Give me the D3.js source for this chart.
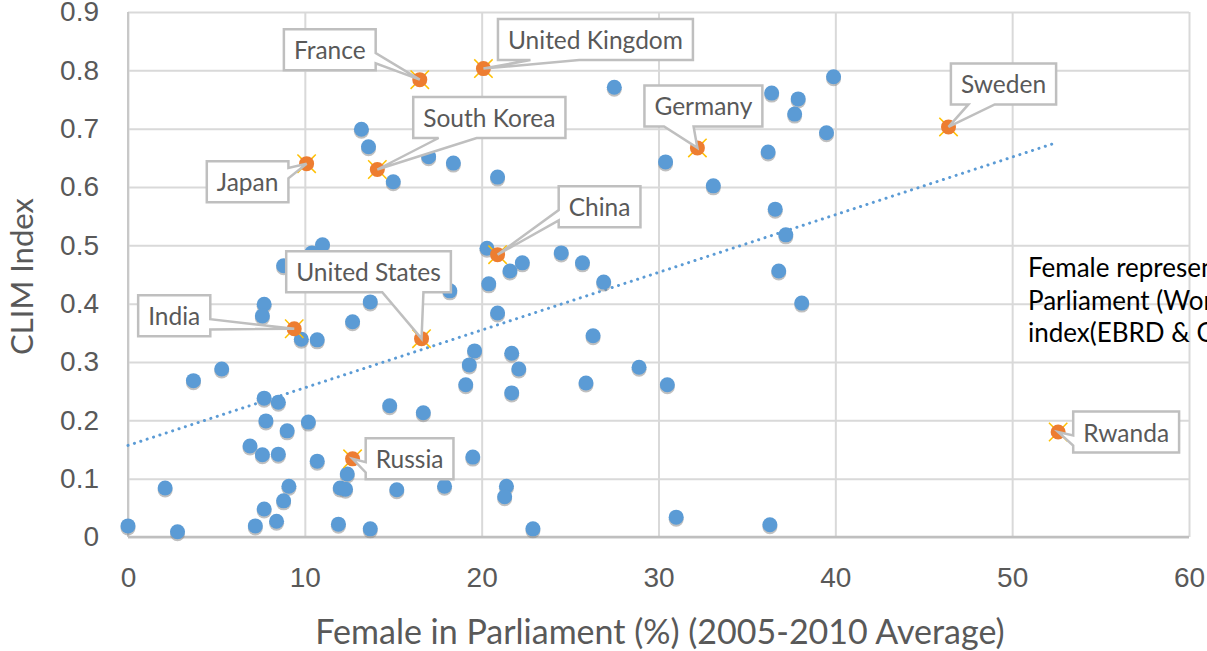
<!DOCTYPE html>
<html>
<head>
<meta charset="utf-8">
<script src="https://d3js.org/d3.v7.min.js"></script>
<style>
body { margin: 0; background: #fff; overflow: hidden; }
svg { display: block; font-family: Lato, "Open Sans", sans-serif; }
</style>
</head>
<body>
<div class="canva"></div>
<script>
// Female in parliament (%) and CLIM index, all countries
const femaleShare = [27.5, 39.9, 36.4, 37.9, 37.7, 39.5, 13.2, 13.6, 17.0, 18.4, 15.0, 20.9, 30.4, 36.2, 33.1,
  36.6, 37.2, 36.8, 38.1, 11.0, 10.4, 8.8, 20.3, 20.4, 21.6, 22.3, 24.5, 25.7, 26.9, 20.9, 18.2, 26.3, 7.7,
  7.6, 13.7, 12.7, 9.8, 10.7, 19.6, 19.3, 21.7, 22.1, 3.7, 5.3, 19.1, 21.7, 25.9, 28.9, 30.5, 7.7, 8.5, 14.8,
  16.7, 7.8, 10.2, 9.0, 6.9, 7.6, 8.5, 10.7, 19.5, 2.1, 9.1, 12.4, 12.0, 12.3, 15.2, 17.9, 21.4, 21.3, 0.0,
  2.8, 8.8, 7.7, 7.2, 8.4, 11.9, 13.7, 22.9, 31.0, 36.3];
const climIndex = [0.771, 0.789, 0.761, 0.751, 0.725, 0.693, 0.699, 0.669, 0.652, 0.641, 0.609, 0.617, 0.643, 0.660, 0.602,
  0.562, 0.518, 0.456, 0.401, 0.501, 0.487, 0.465, 0.495, 0.434, 0.456, 0.470, 0.487, 0.470, 0.437, 0.384, 0.422, 0.345, 0.399,
  0.379, 0.403, 0.369, 0.339, 0.338, 0.319, 0.295, 0.315, 0.288, 0.268, 0.288, 0.261, 0.247, 0.264, 0.291, 0.261, 0.238, 0.231, 0.225,
  0.213, 0.199, 0.197, 0.182, 0.156, 0.141, 0.142, 0.130, 0.137, 0.084, 0.087, 0.108, 0.084, 0.082, 0.081, 0.087, 0.087, 0.069, 0.019,
  0.009, 0.062, 0.048, 0.019, 0.027, 0.022, 0.014, 0.014, 0.034, 0.021];

// highlighted countries
const countries = ["France", "United Kingdom", "South Korea", "Japan", "Germany", "Sweden", "China", "United States", "India", "Russia", "Rwanda"];
const countryShare = [16.5, 20.1, 14.1, 10.1, 32.2, 46.4, 20.9, 16.6, 9.4, 12.7, 52.6];
const countryClim = [0.784, 0.803, 0.630, 0.640, 0.667, 0.703, 0.484, 0.340, 0.357, 0.134, 0.180];

// linear trendline ends
const trendShare = [0, 52.4];
const trendClim = [0.157, 0.675];

const xTicks = [0, 10, 20, 30, 40, 50, 60];
const yTicks = [0, 0.1, 0.2, 0.3, 0.4, 0.5, 0.6, 0.7, 0.8, 0.9];

// where each callout box sits, relative to its point (px)
const calloutOffset = {
  "France": [-90, -30], "United Kingdom": [112, -29], "South Korea": [112, -52], "Japan": [-59, 18],
  "Germany": [6, -42], "Sweden": [55, -43], "China": [102, -48], "United States": [-53, -67],
  "India": [-120, -13], "Russia": [57, 0], "Rwanda": [68, 0]
};

const width = 1207, height = 651;
const margin = {top: 12, right: 18, bottom: 114, left: 128};
const graphWidth = width - margin.left - margin.right;
const graphHeight = height - margin.top - margin.bottom;

const svg = d3.select(".canva").append("svg")
  .attr("width", width)
  .attr("height", height);

const g = svg.append("g").attr("transform", `translate(${margin.left}, ${margin.top})`);

const x = d3.scaleLinear().domain([0, 60]).range([0, graphWidth]);
const y = d3.scaleLinear().domain([0, 0.9]).range([graphHeight, 0]);

// gridlines + tick labels
const yAxis = d3.axisLeft(y).tickValues(yTicks).tickSize(-graphWidth).tickPadding(29)
  .tickFormat(d => d === 0 ? "0" : d3.format(".1f")(d));
const xAxis = d3.axisBottom(x).tickValues(xTicks).tickSize(-graphHeight).tickPadding(30);

const gy = g.append("g").call(yAxis);
const gx = g.append("g").attr("transform", `translate(0, ${graphHeight})`).call(xAxis);
[gx, gy].forEach(a => {
  a.select(".domain").remove();
  a.selectAll(".tick line").attr("stroke", "#d9d9d9").attr("stroke-width", 2);
  a.selectAll(".tick text").attr("fill", "#595959").style("font-size", "28px");
});
gx.selectAll(".tick line").attr("y1", 0).attr("y2", -graphHeight);

// axis lines
g.append("line").attr("x1", 0).attr("x2", 0).attr("y1", 0).attr("y2", graphHeight)
  .attr("stroke", "#c8c8c8").attr("stroke-width", 2);
g.append("line").attr("x1", 0).attr("x2", graphWidth).attr("y1", graphHeight).attr("y2", graphHeight)
  .attr("stroke", "#bfbfbf").attr("stroke-width", 2.5);

// trendline
g.append("path")
  .datum(d3.zip(trendShare, trendClim))
  .attr("d", d3.line().x(d => x(d[0])).y(d => y(d[1])))
  .attr("fill", "none")
  .attr("stroke", "#5b9bd5")
  .attr("stroke-width", 3)
  .attr("stroke-linecap", "round")
  .attr("stroke-dasharray", "0.1,6.6");

// blue points
const pts = d3.zip(femaleShare, climIndex);
g.selectAll(".shadow").data(pts).enter().append("circle")
  .attr("class", "shadow")
  .attr("cx", d => x(d[0])).attr("cy", d => y(d[1]) + 2)
  .attr("r", 7.5).attr("fill", "#8c8c8c").attr("opacity", 0.55);
g.selectAll(".dot").data(pts).enter().append("circle")
  .attr("class", "dot")
  .attr("cx", d => x(d[0])).attr("cy", d => y(d[1]))
  .attr("r", 7.5).attr("fill", "#5b9bd5");

// highlighted countries
const hl = countries.map((c, i) => ({name: c, share: countryShare[i], clim: countryClim[i]}));
const hg = g.selectAll(".hl").data(hl).enter().append("g")
  .attr("class", "hl")
  .attr("transform", d => `translate(${x(d.share)}, ${y(d.clim)})`);
[45, 135, 225, 315].forEach(a => {
  const r = a * Math.PI / 180;
  hg.append("line")
    .attr("x1", Math.cos(r) * 5).attr("y1", Math.sin(r) * 5)
    .attr("x2", Math.cos(r) * 13).attr("y2", Math.sin(r) * 13)
    .attr("stroke", "#ffc000").attr("stroke-width", 1.5);
});
hg.append("circle").attr("r", 7.5).attr("fill", "#ed7d31");

// callouts (box with wedge pointing at the point)
function calloutPath(x0, y0, x1, y1, ax, ay) {
  const w = x1 - x0, h = y1 - y0, cx = (x0 + x1) / 2, cy = (y0 + y1) / 2;
  const dx = (ax - cx) / w, dy = (ay - cy) / h;
  const p = [[x0, y0]];
  let side;
  if (Math.abs(dx) > Math.abs(dy)) side = dx > 0 ? "right" : "left";
  else side = dy > 0 ? "bottom" : "top";
  const hx = ax < cx ? [x0 + w * 2 / 12, x0 + w * 5 / 12] : [x0 + w * 7 / 12, x0 + w * 10 / 12];
  const hy = ay < cy ? [y0 + h * 2 / 12, y0 + h * 5 / 12] : [y0 + h * 7 / 12, y0 + h * 10 / 12];
  if (side === "top") p.push([hx[0], y0], [ax, ay], [hx[1], y0]);
  p.push([x1, y0]);
  if (side === "right") p.push([x1, hy[0]], [ax, ay], [x1, hy[1]]);
  p.push([x1, y1]);
  if (side === "bottom") p.push([hx[1], y1], [ax, ay], [hx[0], y1]);
  p.push([x0, y1]);
  if (side === "left") p.push([x0, hy[1]], [ax, ay], [x0, hy[0]]);
  return "M" + p.map(q => q.join(",")).join("L") + "Z";
}

const cg = g.selectAll(".callout").data(hl).enter().append("g").attr("class", "callout");
cg.each(function(d) {
  const el = d3.select(this);
  const px = x(d.share), py = y(d.clim);
  const off = calloutOffset[d.name];
  const path = el.append("path");
  const t = el.append("text")
    .attr("x", px + off[0]).attr("y", py + off[1])
    .attr("text-anchor", "middle").attr("dominant-baseline", "central")
    .attr("fill", "#595959").style("font-size", "24.5px")
    .text(d.name);
  const tw = t.node().getComputedTextLength();
  const bw = tw + 20, bh = 41;
  const x0 = px + off[0] - bw / 2, y0 = py + off[1] - bh / 2;
  path.attr("d", calloutPath(x0, y0, x0 + bw, y0 + bh, px, py))
    .attr("fill", "#fff").attr("stroke", "#bfbfbf").attr("stroke-width", 2.5)
    .attr("stroke-linejoin", "miter");
});

// axis titles
g.append("text")
  .attr("transform", `translate(${-95}, ${graphHeight / 2 + 2}) rotate(-90)`)
  .attr("text-anchor", "middle")
  .attr("fill", "#595959").style("font-size", "31px")
  .text("CLIM Index");
g.append("text")
  .attr("x", 532).attr("y", graphHeight + 107)
  .attr("text-anchor", "middle")
  .attr("fill", "#595959").style("font-size", "34px")
  .text("Female in Parliament (%) (2005-2010 Average)");

// side note (runs off the right edge)
const note = ["Female representation in", "Parliament (World Bank) and CLIM", "index(EBRD & OECD)"];
svg.append("g").selectAll("text").data(note).enter().append("text")
  .attr("x", 1028).attr("y", (d, i) => 277 + i * 32.5)
  .attr("fill", "#000").style("font-size", "26px")
  .text(d => d);
</script>
</body>
</html>
